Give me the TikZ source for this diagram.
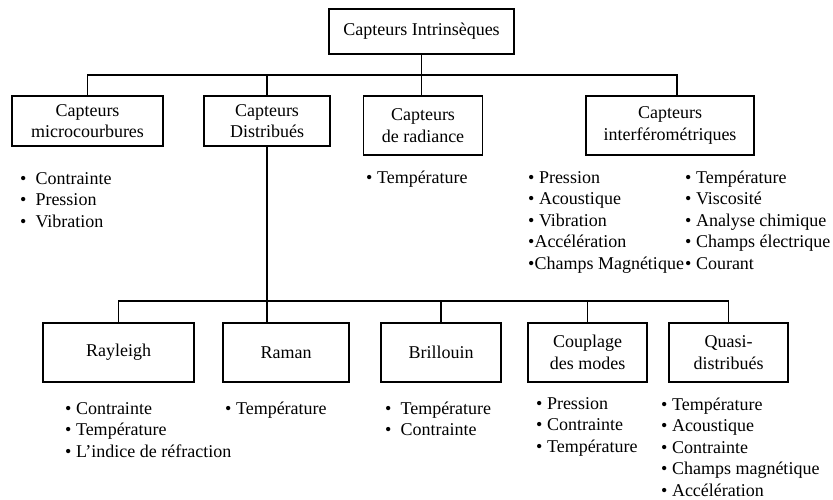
\documentclass[tikz,border=0pt]{standalone}
\usepackage{fontspec}
\setmainfont{Liberation Serif}
\begin{document}
\begin{tikzpicture}[x=1pt,y=-1pt,
  every node/.style={font=\fontsize{18}{21.5}\selectfont},
  boite/.style={draw, line width=1.8pt, align=center, inner sep=0pt},
  liste/.style={anchor=base west, align=left, inner sep=0pt}]
\useasboundingbox (0,0) rectangle (833,500);
% premier niveau
\node[boite, minimum width=185, minimum height=45] (top) at (421.5,31.5) {Capteurs Intrinsèques};
\node[boite, minimum width=151, minimum height=50] (micro) at (87.5,121) {Capteurs\\microcourbures};
\node[boite, minimum width=126, minimum height=50] (distr) at (267,121) {Capteurs\\Distribués};
\node[boite, minimum width=119, minimum height=59] (radiance) at (423,125.5) {Capteurs\\de radiance};
\node[boite, minimum width=168, minimum height=59] (interf) at (670,125.5) {Capteurs\\interférométriques};
% second niveau
\node[boite, minimum width=151, minimum height=59] (rayleigh) at (118.5,352.5) {Rayleigh};
\node[boite, minimum width=126, minimum height=59] (raman) at (286,352.5) {Raman};
\node[boite, minimum width=120, minimum height=59] (brillouin) at (441,352.5) {Brillouin};
\node[boite, minimum width=119, minimum height=59] (couplage) at (587.5,352.5) {Couplage\\des modes};
\node[boite, minimum width=119, minimum height=59] (quasi) at (728.5,352.5) {Quasi-\\distribués};

\coordinate (bus1) at (0,75);
\coordinate (bus2) at (0,301);

\path[draw,line width=1.8pt,-] (top.south) |- (micro.north |- bus1) -- (micro.north);
\path[draw,line width=1.8pt,-] (top.south) |- (distr.north |- bus1) -- (distr.north);
\path[draw,line width=1.8pt,-] (top.south) -- (top.south |- radiance.north);
\path[draw,line width=1.8pt,-] (top.south) |- ([xshift=7]interf.north |- bus1) -- ([xshift=7]interf.north);

\path[draw,line width=1.8pt,-] (distr.south) |- (rayleigh.north |- bus2) -- (rayleigh.north);
\path[draw,line width=1.8pt,-] (distr.south) -- (distr.south |- raman.north);
\path[draw,line width=1.8pt,-] (distr.south) |- (brillouin.north |- bus2) -- (brillouin.north);
\path[draw,line width=1.8pt,-] (distr.south) |- (couplage.north |- bus2) -- (couplage.north);
\path[draw,line width=1.8pt,-] (distr.south) |- (quasi.north |- bus2) -- (quasi.north);

% listes (ancre sur la derniere ligne)
\node[liste] (lmicro) at (20,227) {•\enspace Contrainte\\•\enspace Pression\\•\enspace Vibration};
\node[liste] (lradiance) at (366,184) {• Température};
\node[liste] (linterfa) at (528,269) {• Pression\\• Acoustique\\• Vibration\\•Accélération\\•Champs Magnétique};
\node[liste] (linterfb) at (685,269) {• Température\\• Viscosité\\• Analyse chimique\\• Champs électrique\\• Courant};
\node[liste] (lrayleigh) at (65,457) {• Contrainte\\• Température\\• L’indice de réfraction};
\node[liste] (lraman) at (225,414) {• Température};
\node[liste] (lbrillouin) at (385,435.5) {•\enspace Température\\•\enspace Contrainte};
\node[liste] (lcouplage) at (536,452) {• Pression\\• Contrainte\\• Température};
\node[liste] (lquasi) at (661,496) {• Température\\• Acoustique\\• Contrainte\\• Champs magnétique\\• Accélération};
\end{tikzpicture}
\end{document}
